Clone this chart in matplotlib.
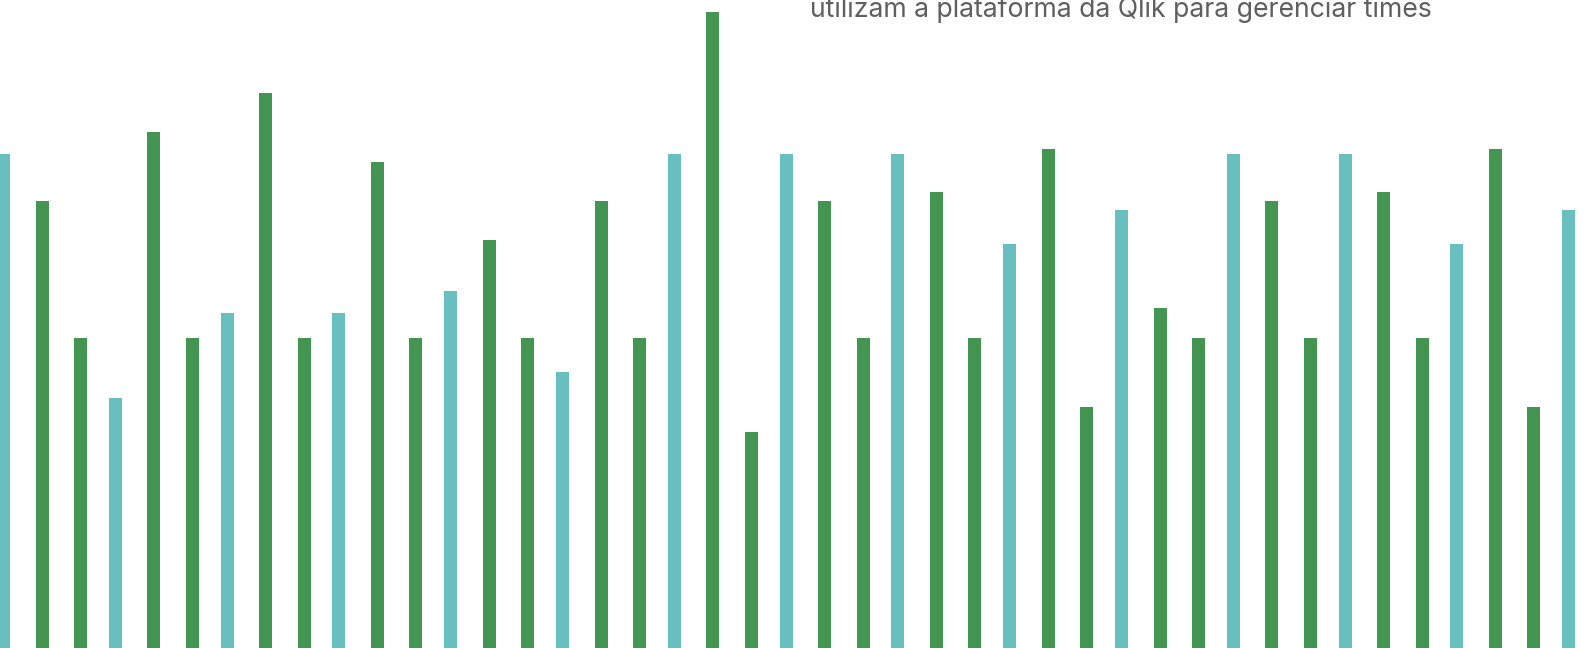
import numpy as np
import matplotlib.pyplot as plt

plt.rcParams['font.family'] = ['Inter', 'DejaVu Sans']

# Valores (altura das barras)
teal_vals = [494, 250, 335, 335, 357, 276, 494, 494, 494, 404, 438, 494, 494, 404, 438]
green1_vals = [447, 516, 555, 486, 408, 447, 636, 447, 456, 499, 340, 447, 456, 499]
green2_vals = [310, 310, 310, 310, 310, 310, 216, 310, 310, 241, 310, 310, 310, 241]

texto = "utilizam a plataforma da Qlik para gerenciar times"

cor_teal = '#67BFC0'
cor_verde = '#459552'

fig = plt.figure(figsize=(15.88, 6.48), dpi=100)
ax = fig.add_axes([0, 0, 1, 1])

base = -50  # as barras continuam abaixo da borda
grupos = np.arange(len(teal_vals))
largura = 0.116
ax.bar(grupos, np.array(teal_vals) - base, width=largura, color=cor_teal, bottom=base)
g = np.arange(len(green1_vals))
ax.bar(g + 0.345, np.array(green1_vals) - base, width=largura, color=cor_verde, bottom=base)
ax.bar(g + 0.689, np.array(green2_vals) - base, width=largura, color=cor_verde, bottom=base)

ax.set_xlim(-0.0313, 14.173)
ax.set_ylim(0, 648)
ax.axis('off')

fig.text(810 / 1588, 1 - 17 / 648, texto, fontsize=19.2, color='#5f5f5f',
         ha='left', va='baseline')

fig.savefig('out.png', dpi=100)
